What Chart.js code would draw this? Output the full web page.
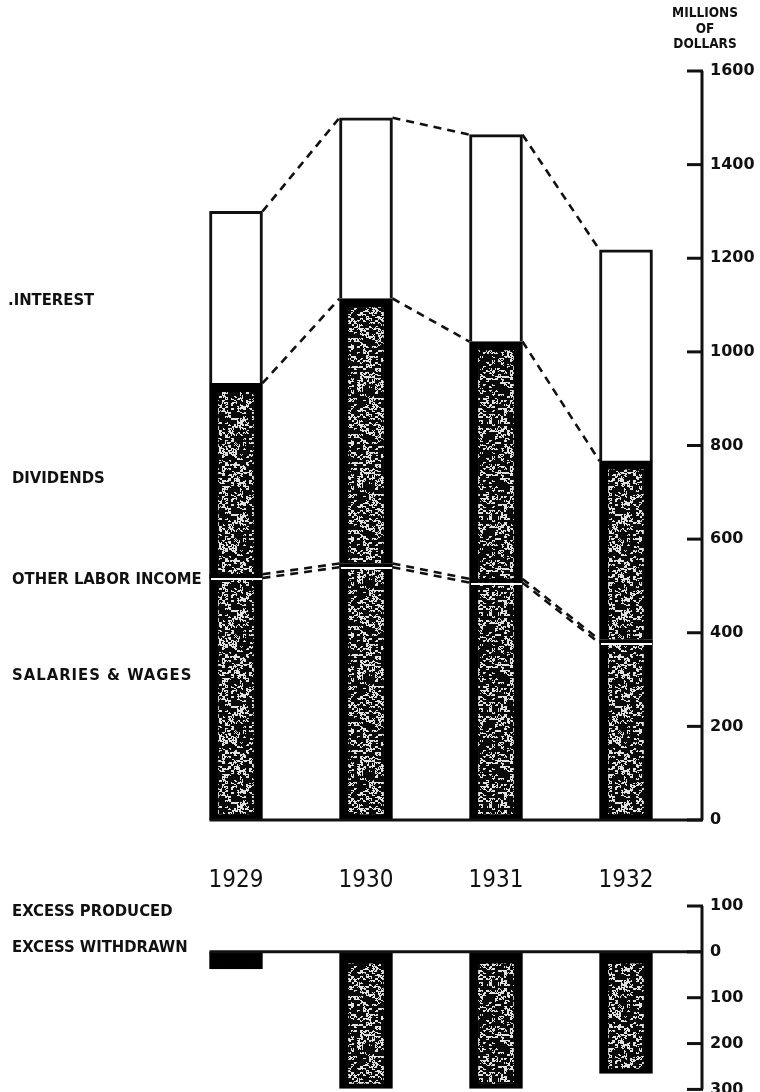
<!DOCTYPE html>
<html><head><meta charset="utf-8">
<script src="https://cdn.jsdelivr.net/npm/chart.js@4.4.1/dist/chart.umd.min.js"></script>
<style>
html,body{margin:0;padding:0;background:#fff;width:760px;height:1092px;overflow:hidden;}
#c1{position:absolute;left:0;top:0;}
#c2{position:absolute;left:0;top:850px;}
.lbl{position:absolute;font-family:"DejaVu Sans Condensed","DejaVu Sans",sans-serif;font-stretch:condensed;font-weight:bold;font-size:16.5px;color:#111;white-space:nowrap;transform:translateY(-50%);}
.unit{position:absolute;font-family:"DejaVu Sans Condensed","DejaVu Sans",sans-serif;font-stretch:condensed;font-weight:bold;font-size:13.5px;color:#111;text-align:center;width:90px;left:660px;line-height:15.5px;top:5px;}
</style></head><body>
<canvas id="c1" width="760" height="850"></canvas>
<canvas id="c2" width="760" height="268"></canvas>
<div class="unit">MILLIONS<br>OF<br>DOLLARS</div>
<div class="lbl" style="left:8px;top:299px;">.INTEREST</div>
<div class="lbl" style="left:12px;top:477px;">DIVIDENDS</div>
<div class="lbl" style="left:12px;top:578px;">OTHER LABOR INCOME</div>
<div class="lbl" style="left:12px;top:674px;letter-spacing:1px;">SALARIES &amp; WAGES</div>
<div class="lbl" style="left:12px;top:910px;">EXCESS PRODUCED</div>
<div class="lbl" style="left:12px;top:946px;">EXCESS WITHDRAWN</div>
<script>
// ---- data ----
const years = ['1929', '1930', '1931', '1932'];
const salariesWages = [517, 540, 507, 378];
const otherLabor = [8, 8, 8, 7];
const dividends = [408, 566, 507, 382];
const interest = [367, 386, 442, 451];
const excessWithdrawn = [37, 298, 298, 265];
const topTicks = [0, 200, 400, 600, 800, 1000, 1200, 1400, 1600];
const bottomTicks = [-100, 0, 100, 200, 300];

// ---- stipple texture ----
function makePattern() {
  const n = 96, c = document.createElement('canvas');
  c.width = c.height = n;
  const g = c.getContext('2d');
  const im = g.createImageData(n, n);
  for (let yy = 0; yy < n; yy++) for (let xx = 0; xx < n; xx++) {
    const h = Math.abs(Math.sin(xx * 12.9898 + yy * 78.233) * 43758.5453) % 1;
    const h2 = Math.abs(Math.sin(((xx / 3) | 0) * 39.3468 + ((yy / 2) | 0) * 11.135) * 24634.6345) % 1;
    const v = (h2 > 0.58 && h > 0.25) ? 225 : 10;
    const i = (yy * n + xx) * 4;
    im.data[i] = im.data[i + 1] = im.data[i + 2] = v; im.data[i + 3] = 255;
  }
  g.putImageData(im, 0, 0);
  return g.createPattern(c, 'repeat');
}
const pat = makePattern();

const AXIS_OFFSET = 11;
const deco = {
  id: 'deco',
  afterDatasetsDraw(chart, args, opts) {
    const ctx = chart.ctx, ca = chart.chartArea, ys = chart.scales.y;
    const axisX = ca.right + AXIS_OFFSET;
    ctx.save();
    // white separating line on top of a segment
    if (opts.whiteLine !== undefined) {
      ctx.fillStyle = '#fff';
      chart.getDatasetMeta(opts.whiteLine).data.forEach(el => {
        ctx.fillRect(Math.round(el.x - el.width / 2) + 1, Math.round(el.y), Math.round(el.width) - 2, 2);
      });
    }
    ctx.strokeStyle = '#111';
    ctx.lineWidth = 2.6;
    ctx.setLineDash([8, 6]);
    (opts.dashed || []).forEach(di => {
      const els = chart.getDatasetMeta(di).data;
      for (let j = 0; j < els.length - 1; j++) {
        const a = els[j], b = els[j + 1];
        ctx.beginPath();
        ctx.moveTo(a.x + a.width / 2, a.y);
        ctx.lineTo(b.x - b.width / 2, b.y);
        ctx.stroke();
      }
    });
    ctx.setLineDash([]);
    const first = chart.getDatasetMeta(0).data[0];
    const y0 = ys.getPixelForValue(0);
    ctx.lineWidth = 3;
    ctx.beginPath();
    ctx.moveTo(first.x - first.width / 2, y0);
    ctx.lineTo(axisX, y0);
    ctx.stroke();
    ctx.beginPath();
    ctx.moveTo(axisX, ca.top);
    ctx.lineTo(axisX, ca.bottom);
    ctx.stroke();
    ys.ticks.forEach(t => {
      const p = ys.getPixelForValue(t.value);
      ctx.beginPath();
      ctx.moveTo(axisX - 15, p);
      ctx.lineTo(axisX + 1, p);
      ctx.stroke();
    });
    ctx.restore();
  }
};

const tickFont = { family: "'DejaVu Sans'", weight: 'bold', size: 16 };
const BAR_W = 53;

new Chart(document.getElementById('c1'), {
  type: 'bar',
  data: {
    labels: years,
    datasets: [
      { label: 'SALARIES & WAGES', data: salariesWages, backgroundColor: pat, borderColor: '#000',
        borderWidth: { top: 0, left: 9, right: 9, bottom: 6 }, borderSkipped: false },
      { label: 'OTHER LABOR INCOME', data: otherLabor, backgroundColor: '#000', borderColor: '#000',
        borderWidth: 0 },
      { label: 'DIVIDENDS', data: dividends, backgroundColor: pat, borderColor: '#000',
        borderWidth: { top: 9, left: 9, right: 9, bottom: 0 }, borderSkipped: false },
      { label: 'INTEREST', data: interest, backgroundColor: '#fff', borderColor: '#111',
        borderWidth: { top: 3, left: 3, right: 3, bottom: 0 }, borderSkipped: false }
    ]
  },
  options: {
    responsive: false, animation: false,
    layout: { padding: { left: 171, top: 71, bottom: 30, right: 0 } },
    datasets: { bar: { barThickness: BAR_W } },
    plugins: { legend: { display: false }, tooltip: { enabled: false },
      deco: { dashed: [3, 2, 1, 0], whiteLine: 0 } },
    scales: {
      x: { stacked: true, display: false },
      y: { stacked: true, position: 'right', min: 0, max: 1600,
        afterFit: s => { s.width = 69; },
        afterBuildTicks: s => { s.ticks = topTicks.map(v => ({ value: v })); },
        border: { display: false },
        grid: { display: false, drawTicks: false },
        ticks: { padding: 19, color: '#111', font: tickFont, callback: v => String(v) } }
    }
  },
  plugins: [deco]
});

new Chart(document.getElementById('c2'), {
  type: 'bar',
  data: {
    labels: years,
    datasets: [
      { label: 'EXCESS WITHDRAWN', data: excessWithdrawn,
        backgroundColor: ['#000', pat, pat, pat], borderColor: '#000',
        borderWidth: { top: 12, left: 9, right: 9, bottom: 5 }, borderSkipped: false }
    ]
  },
  options: {
    responsive: false, animation: false,
    layout: { padding: { left: 171, top: 10, bottom: 13, right: 0 } },
    datasets: { bar: { barThickness: BAR_W } },
    plugins: { legend: { display: false }, tooltip: { enabled: false }, deco: { dashed: [] } },
    scales: {
      x: { position: 'top',
        afterFit: s => { s.height = 46; },
        border: { display: false },
        grid: { display: false, drawTicks: false },
        ticks: { padding: 11, color: '#111',
          font: { family: "'DejaVu Sans Condensed', 'Liberation Sans Narrow', 'DejaVu Sans'", size: 24 } } },
      y: { position: 'right', min: -100, max: 300, reverse: true,
        afterFit: s => { s.width = 69; },
        afterBuildTicks: s => { s.ticks = bottomTicks.map(v => ({ value: v })); },
        border: { display: false },
        grid: { display: false, drawTicks: false },
        ticks: { padding: 19, color: '#111', font: tickFont, callback: v => String(Math.abs(v)) } }
    }
  },
  plugins: [deco]
});
</script>
</body></html>
